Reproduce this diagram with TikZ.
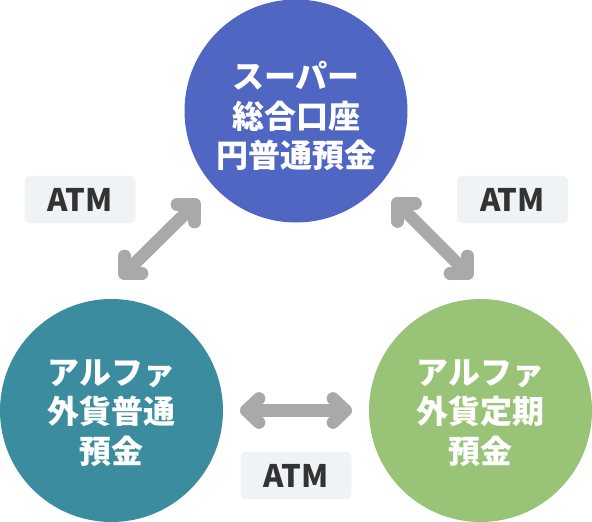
\documentclass[tikz,border=0pt]{standalone}
\usepackage{fontspec}
\setmainfont{Noto Sans CJK JP}
\usetikzlibrary{calc}
\definecolor{cblue}{HTML}{5066C3}
\definecolor{cteal}{HTML}{3C8C9F}
\definecolor{cgreen}{HTML}{99C376}
\definecolor{cgray}{HTML}{A9A9A9}
\definecolor{lblbg}{HTML}{F0F3F6}
\definecolor{lbltext}{HTML}{333333}
\tikzset{
  acct/.style={circle, minimum size=223pt, inner sep=0pt, draw=none},
  accttext/.style={text=white, align=center, font=\bfseries\fontsize{32}{39.5}\selectfont, inner sep=0pt},
  atmlabel/.style={fill=lblbg, rounded corners=6pt, minimum width=111pt, minimum height=47.5pt, inner sep=0pt,
    text=lbltext, font=\bfseries\fontsize{31}{36}\selectfont},
  arrline/.style={draw=cgray, line width=12.7pt, line cap=round, line join=round}
}
\begin{document}
\begin{tikzpicture}[x=1pt,y=-1pt]
\useasboundingbox (0,0) rectangle (592,522);
% circles
\node[acct, fill=cblue] (top) at (296,111) {};
\node[acct, fill=cteal] (left) at (111.5,410.5) {};
\node[acct, fill=cgreen] (right) at (480.5,410.5) {};
\node[accttext] (toptext) at (296,116) {スーパー\\総合口座\\円普通預金};
\node[accttext] (lefttext) at (111.5,413) {アルファ\\外貨普通\\預金};
\node[accttext] (righttext) at (480.5,413) {アルファ\\外貨定期\\預金};
% labels
\node[atmlabel] (lblL) at (80,199.5) {ATM};
\node[atmlabel] (lblR) at (512.5,199.5) {ATM};
\node[atmlabel] (lblB) at (296,475.5) {ATM};
% arrow corner coordinates
\coordinate (la1) at (124.5,273.5);
\coordinate (la2) at (194.5,204.5);
\coordinate (ra1) at (397.5,203.5);
\coordinate (ra2) at (467.5,273.5);
\coordinate (ba1) at (246.5,410.5);
\coordinate (ba2) at (345.5,410.5);
% left arrow
\draw[arrline] (la1) -- (la2);
\draw[arrline] ($(la1)+(0,-17.5)$) -- (la1) -- ($(la1)+(17.5,0)$);
\draw[arrline] ($(la2)+(-17.5,0)$) -- (la2) -- ($(la2)+(0,17.5)$);
% right arrow
\draw[arrline] (ra1) -- (ra2);
\draw[arrline] ($(ra1)+(18,0)$) -- (ra1) -- ($(ra1)+(0,18)$);
\draw[arrline] ($(ra2)+(0,-17.5)$) -- (ra2) -- ($(ra2)+(-17.5,0)$);
% bottom arrow
\draw[arrline] (ba1) -- (ba2);
\draw[arrline] ($(ba1)+(12.5,-12)$) -- (ba1) -- ($(ba1)+(12.5,12)$);
\draw[arrline] ($(ba2)+(-12.5,-12)$) -- (ba2) -- ($(ba2)+(-12.5,12)$);
\end{tikzpicture}
\end{document}
